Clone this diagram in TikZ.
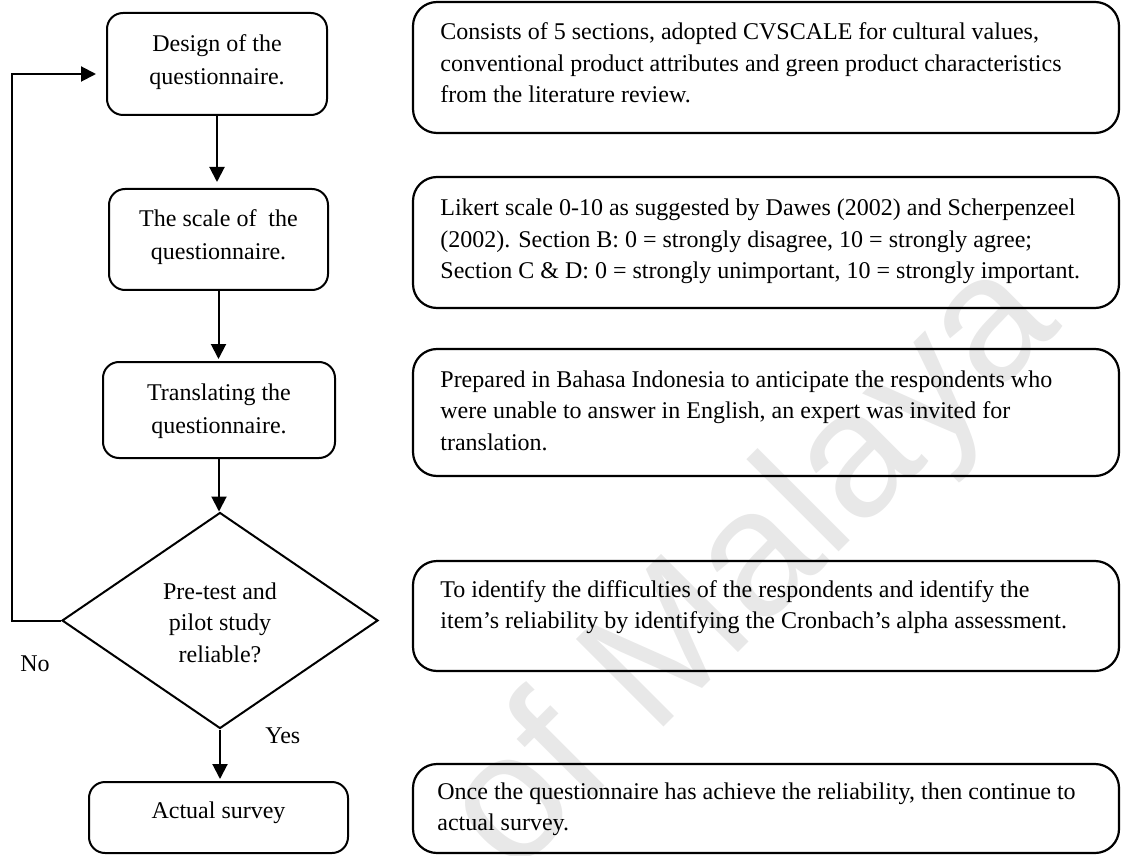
\documentclass[tikz,border=0pt]{standalone}
\usepackage{fontspec}
\setmainfont{Liberation Serif}
\newfontfamily\wmfont{Liberation Sans}
\usetikzlibrary{arrows.meta,shapes.geometric}

\begin{document}
\begin{tikzpicture}[x=0.5pt,y=-0.5pt,
  stepbox/.style={draw, line width=1pt, rounded corners=8pt, inner sep=0pt},
  notebox/.style={draw, line width=1.1pt, rounded corners=12pt, inner sep=0pt, minimum width=353pt},
  decision/.style={draw, line width=1pt, diamond, inner sep=0pt, minimum width=158pt, minimum height=108pt},
  steptext/.style={inner sep=0pt, anchor=base, font=\fontsize{12}{16.5}\selectfont},
  notetext/.style={inner sep=0pt, anchor=base west, font=\fontsize{12}{15.75}\selectfont},
  flowlabel/.style={inner sep=0pt, anchor=base west, font=\fontsize{12}{14}\selectfont},
  flow/.style={line width=1pt, -{Triangle[length=7.5pt,width=7.5pt]}},
  watermark/.style={text=black!9, font=\wmfont\fontsize{90}{90}\selectfont, inner sep=0pt}
]
\useasboundingbox (0,0) rectangle (1122,855);

% faint background watermark
\node[watermark, rotate=45] (wm) at (755,570) {of Malaya};

% process steps
\node[stepbox, minimum width=110pt, minimum height=51pt] (b1) at (217,64) {};
\node[stepbox, minimum width=109.5pt, minimum height=50.5pt] (b2) at (218.5,239.5) {};
\node[stepbox, minimum width=116pt, minimum height=48pt] (b3) at (219,410) {};
\node[decision] (d) at (220,620.5) {};
\node[stepbox, minimum width=129.5pt, minimum height=35.5pt] (b5) at (218.5,817.5) {};

\node[steptext] (b1t) at (217,52) {\begin{tabular}[t]{@{}c@{}}Design of the\\questionnaire.\end{tabular}};
\node[steptext] (b2t) at (218.5,227) {\begin{tabular}[t]{@{}c@{}}The scale of\ \ the\\questionnaire.\end{tabular}};
\node[steptext] (b3t) at (219,400) {\begin{tabular}[t]{@{}c@{}}Translating the\\questionnaire.\end{tabular}};
\node[steptext, font=\fontsize{12}{15.75}\selectfont] (dt) at (220,599) {\begin{tabular}[t]{@{}c@{}}Pre-test and\\pilot study\\reliable?\end{tabular}};
\node[steptext] (b5t) at (218.5,818) {Actual survey};

% descriptions
\node[notebox, minimum height=65.5pt] (r1) at (766,67.5) {};
\node[notebox, minimum height=65.5pt] (r2) at (766,242.5) {};
\node[notebox, minimum height=63.5pt] (r3) at (766,412.5) {};
\node[notebox, minimum height=55pt] (r4) at (766,616) {};
\node[notebox, minimum height=44.5pt] (r5) at (766,808.5) {};

\node[notetext] (r1t) at (440,40) {\begin{tabular}[t]{@{}l@{}}Consists of 5 sections, adopted CVSCALE for cultural values,\\conventional product attributes and green product characteristics\\from the literature review.\end{tabular}};
\node[notetext] (r2t) at (440,216) {\begin{tabular}[t]{@{}l@{}}Likert scale 0-10 as suggested by Dawes (2002) and Scherpenzeel\\(2002). Section B: 0 = strongly disagree, 10 = strongly agree;\\Section C \& D: 0 = strongly unimportant, 10 = strongly important.\end{tabular}};
\node[notetext] (r3t) at (440,387) {\begin{tabular}[t]{@{}l@{}}Prepared in Bahasa Indonesia to anticipate the respondents who\\were unable to answer in English, an expert was invited for\\translation.\end{tabular}};
\node[notetext] (r4t) at (440,597) {\begin{tabular}[t]{@{}l@{}}To identify the difficulties of the respondents and identify the\\item’s reliability by identifying the Cronbach’s alpha assessment.\end{tabular}};
\node[notetext] (r5t) at (437,799) {\begin{tabular}[t]{@{}l@{}}Once the questionnaire has achieve the reliability, then continue to\\actual survey.\end{tabular}};

% connectors
\draw[flow, shorten >=3pt] (b1.south) -- (b2.north -| b1.south);
\draw[flow, shorten >=1pt] (b2.south) -- (b3.north -| b2.south);
\draw[flow] (b3.south) -- (d.north -| b3.south);
\draw[flow, shorten >=1pt] (d.south) -- (b5.north -| d.south);
\coordinate (back) at (12,620.5);
\draw[flow, shorten >=5pt] (d.west) -- (back) |- ([yshift=-5pt]b1.west);

\node[flowlabel] (no) at (20,671) {No};
\node[flowlabel] (yes) at (265,743) {Yes};
\end{tikzpicture}
\end{document}
